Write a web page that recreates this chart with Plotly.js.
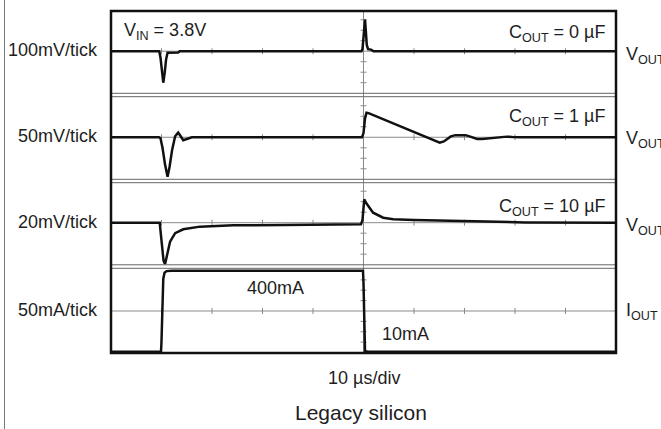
<!DOCTYPE html>
<html><head><meta charset="utf-8">
<script src="https://cdn.plot.ly/plotly-3.0.1.min.js"></script>
<style>html,body{margin:0;padding:0;background:#fff}#chart{width:661px;height:429px}</style>
</head><body><div id="chart"></div>
<script>
// ---------- data ----------
// time axis in microseconds (10 µs/div, 10 divisions)
const t1 = [0, 5, 9.55, 9.8, 10.05, 10.35, 10.65, 10.9, 11.2, 13.3, 13.6, 30, 49.6, 49.8, 50.0, 50.2, 50.3, 50.45, 50.65, 50.9, 51.5, 52.0, 75, 100];
const v1 = [0, 0, 0, -60, -200, -300, -200, -80, -15, -12, 0, 0, 0, 20, 150, 280, 300, 200, 60, 20, 15, 0, 0, 0]; // mV, Cout = 0 µF

const t2 = [0, 9.5, 9.8, 10.2, 10.7, 11.2, 11.6, 12.1, 12.7, 13.3, 13.8, 14.3, 15.0, 16.0, 49.7, 50.0, 50.3, 50.6, 51.0, 64.3, 65.1, 65.9, 66.6, 67.3, 68.2, 69.2, 70.2, 71.0, 71.8, 72.5, 73.5, 74.5, 75.5, 76.5, 77.5, 78.4, 79.5, 81.0, 100];
const v2 = [0, 0, -5, -50, -130, -188, -140, -60, 5, 22, 5, -14, -8, 0, 0, 20, 90, 117, 115, -20, -26, -20, -8, 4, 10, 11, 10, 4, -4, -8, -8, -6, -3, 0, 2, 3, 1, 0, 0]; // mV, Cout = 1 µF

const t3 = [0, 9.65, 9.8, 10.1, 10.4, 10.7, 11.0, 11.7, 12.7, 14.3, 17.6, 24.2, 34.1, 44.0, 49.5, 49.8, 50.15, 50.5, 51.0, 51.9, 53.9, 55.9, 60.0, 70.1, 75.7, 82, 100];
const v3 = [0, 0, -15, -50, -72, -79, -65, -36, -20, -12.5, -7.5, -5, -4.5, -4, -3, 5, 44.6, 38, 30.5, 19, 9.5, 6.5, 5, 3, 1.3, 0.5, 0]; // mV, Cout = 10 µF

const t4 = [0, 9.9, 10.0, 10.2, 10.35, 10.6, 11.0, 12.0, 49.9, 50.0, 50.15, 50.3, 51.0, 100];
const i4 = [10, 10, 60, 250, 360, 390, 398, 400, 400, 340, 100, 12, 10, 10]; // mA, load current

const leftLabels = ['100mV/tick', '50mV/tick', '20mV/tick', '50mA/tick'];
const rightLabels = ['V<sub>OUT</sub>', 'V<sub>OUT</sub>', 'V<sub>OUT</sub>', 'I<sub>OUT</sub>'];
const capLabels = ['C<sub>OUT</sub> = 0 µF', 'C<sub>OUT</sub> = 1 µF', 'C<sub>OUT</sub> = 10 µF'];
const perTick = [100, 50, 20, 50];
const centers = [0, 0, 0, 206];

// ---------- layout geometry ----------
const W = 661, H = 429, L = 111, R = 45, T = 11, B = 76;
const PW = W - L - R, PH = H - T - B;
const px2x = p => (p - L) / PW;
const py2y = p => (H - B - p) / PH;
const domains = [[py2y(93.3), 1], [py2y(179.3), py2y(96.7)], [py2y(264.8), py2y(182.7)], [0, py2y(268.3)]];
const ranges = [[-401, 383], [-200, 193], [-80.2, 76.2], [3.7, 411.6]];

const FONT = "Arial, 'Liberation Sans', sans-serif";
const TXT = '#1e1e1e';
const lineStyle = {color: '#111', width: 2.5};

const series = [[t1, v1], [t2, v2], [t3, v3], [t4, i4]];
const traces = series.map((s, k) => ({
  type: 'scatter', mode: 'lines', x: s[0], y: s[1],
  xaxis: 'x', yaxis: k === 0 ? 'y' : 'y' + (k + 1),
  line: lineStyle, hoverinfo: 'skip', showlegend: false
}));

const shapes = [];
const gridC = '#8a8a8a';
// vertical center line
shapes.push({type: 'line', xref: 'x', yref: 'paper', x0: 50, x1: 50, y0: 0, y1: 1, line: {color: gridC, width: 1}, layer: 'below'});
for (let k = 0; k < 4; k++) {
  const yr = k === 0 ? 'y' : 'y' + (k + 1);
  const c = centers[k];
  shapes.push({type: 'line', xref: 'x', yref: yr, x0: 0, x1: 100, y0: c, y1: c, line: {color: gridC, width: 1}, layer: 'below'});
  for (let d = 1; d < 10; d++) {
    if (d === 5) continue;
    shapes.push({type: 'line', xref: 'x', yref: yr, ysizemode: 'pixel', yanchor: c, x0: d * 10, x1: d * 10, y0: -3, y1: 3, line: {color: gridC, width: 1}, layer: 'below'});
  }
  for (let j = -3; j <= 3; j++) {
    if (j === 0) continue;
    const yv = c + j * perTick[k];
    shapes.push({type: 'line', xref: 'x', yref: yr, xsizemode: 'pixel', xanchor: 50, x0: -3, x1: 3, y0: yv, y1: yv, line: {color: gridC, width: 1}, layer: 'below'});
  }
}
// panel separators (double lines)
[domains[0][0], domains[1][1], domains[1][0], domains[2][1], domains[2][0], domains[3][1]].forEach(y => {
  shapes.push({type: 'line', xref: 'paper', yref: 'paper', x0: 0, x1: 1, y0: y, y1: y, line: {color: '#666', width: 1}});
});
// outer frame
shapes.push({type: 'rect', xref: 'paper', yref: 'paper', x0: 0, x1: 1, y0: 0, y1: 1, line: {color: '#111', width: 2.5}});
// figure left edge line
shapes.push({type: 'line', xref: 'paper', yref: 'paper', x0: px2x(4.5), x1: px2x(4.5), y0: py2y(0), y1: py2y(429), line: {color: '#777', width: 1}});

const annotations = [];
const ann = (text, x, y, xa, size, ya) => annotations.push({
  text, xref: 'paper', yref: 'paper', x: px2x(x), y: py2y(y), xanchor: xa, yanchor: ya || 'middle',
  showarrow: false, font: {family: FONT, size: size || 18, color: TXT}
});
const leftY = [50, 136, 222, 310];
const rightY = [55, 140, 226, 311];
leftLabels.forEach((s, k) => ann(s, 100, leftY[k], 'right'));
rightLabels.forEach((s, k) => ann(s, 624, rightY[k], 'left'));
const capY = [33, 117, 208];
capLabels.forEach((s, k) => ann(s, 608, capY[k], 'right'));
ann('V<sub>IN</sub> = 3.8V', 122, 32, 'left');
ann('400mA', 275, 288, 'center');
ann('10mA', 405, 334, 'center');
ann('10 µs/div', 364, 378, 'center');
ann('Legacy silicon', 361, 412, 'center', 21);

const yax = k => ({domain: domains[k], range: ranges[k], visible: false, fixedrange: true, showgrid: false, zeroline: false});
const layout = {
  width: W, height: H, margin: {l: L, r: R, t: T, b: B, pad: 0},
  paper_bgcolor: '#fff', plot_bgcolor: 'rgba(0,0,0,0)',
  showlegend: false,
  xaxis: {range: [0, 100], visible: false, fixedrange: true, showgrid: false, zeroline: false, anchor: 'y4'},
  yaxis: yax(0), yaxis2: yax(1), yaxis3: yax(2), yaxis4: yax(3),
  shapes, annotations,
  font: {family: FONT, color: TXT}
};
Plotly.newPlot('chart', traces, layout, {displayModeBar: false, staticPlot: true});
</script>
</body></html>
